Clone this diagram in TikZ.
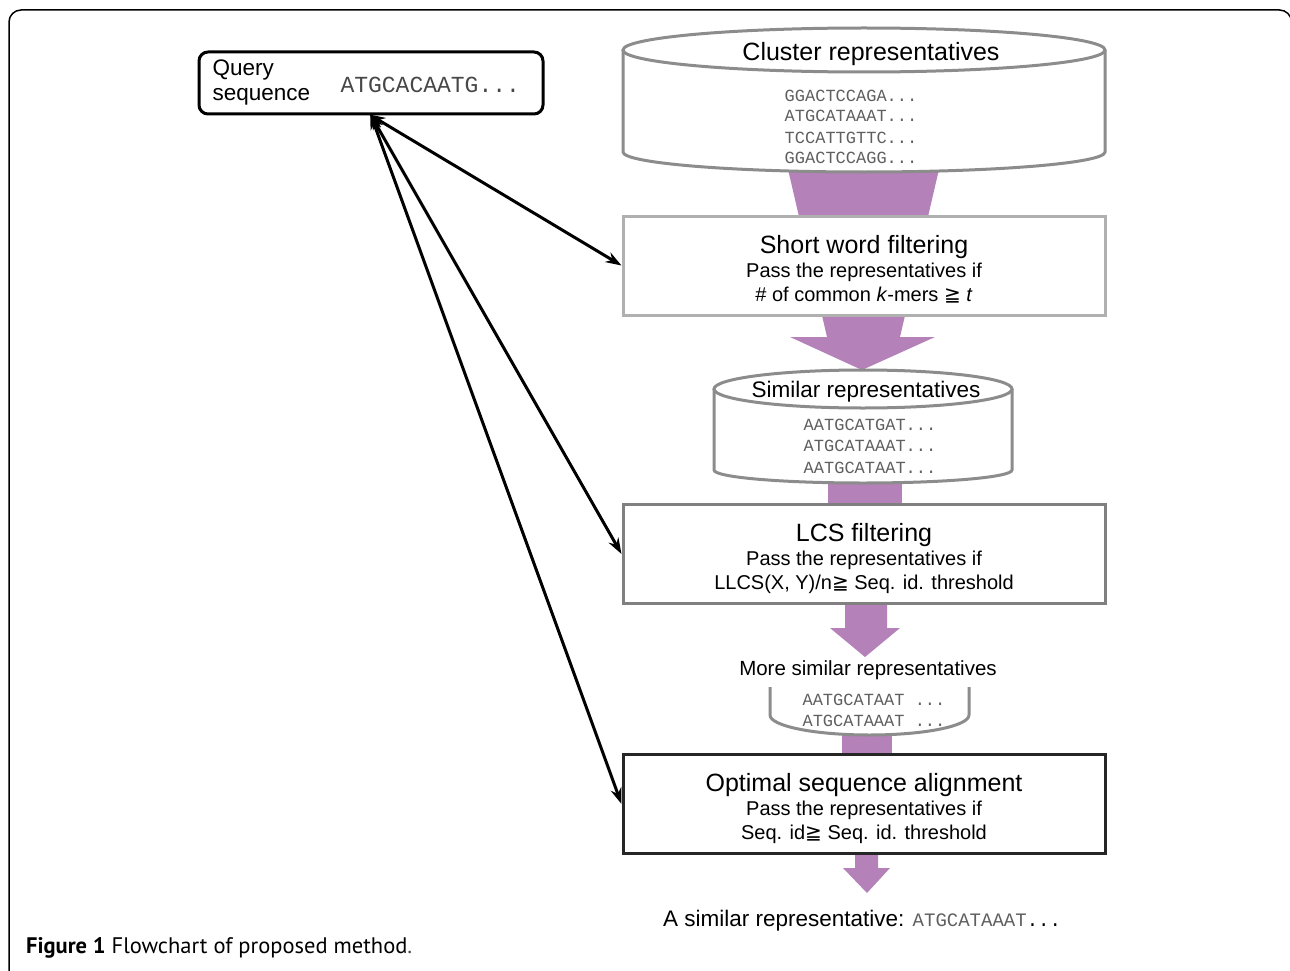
\documentclass[tikz,border=0pt]{standalone}
\usepackage{fontspec}
\setmainfont{Liberation Sans}
\newfontfamily\monof{Liberation Mono}
\newfontfamily\symf{DejaVu Sans}
\newfontfamily\capf{PT Sans}
\usetikzlibrary{arrows.meta,calc}
\definecolor{purp}{RGB}{180,129,184}
\definecolor{gcyl}{RGB}{140,140,140}
\definecolor{gsw}{RGB}{176,176,176}
\definecolor{glcs}{RGB}{128,128,128}
\definecolor{gopt}{RGB}{38,38,38}
\definecolor{seqc}{RGB}{95,95,95}
\newcommand{\geqsym}{{\symf ≧}}
\begin{document}
\begin{tikzpicture}[x=1pt,y=1pt,
  box/.style={draw, line width=3pt, fill=white, minimum width=482pt, minimum height=99pt, inner sep=0pt},
  ttl/.style={anchor=base, font=\fontsize{25}{30}\selectfont},
  sub/.style={anchor=base, font=\fontsize{20}{24}\selectfont},
  seq/.style={anchor=base, text=seqc, font=\monof\fontsize{17}{20}\selectfont},
  link/.style={line width=3pt, {Stealth[length=16pt,width=11pt]}-{Stealth[length=16pt,width=11pt]}, shorten <=-2pt},
  cyl/.style={line width=3pt, fill=white}
]
\useasboundingbox (0,0) rectangle (1290,-971);
% outer frame
\begin{scope}
\clip (0,0) rectangle (1290,-971);
\draw[line width=1.5pt, rounded corners=12pt] (9,-990) -- (9,-10) -- (1291.5,-10) -- (1291.5,-990);
\end{scope}

% purple flow shapes
\fill[purp] (787,-165) -- (940,-165) -- (900,-337) -- (935,-337) -- (862,-370) -- (790,-337) -- (827,-337) -- cycle;
\fill[purp] (828,-470) rectangle (902,-510);
\fill[purp] (845,-598) -- (887,-598) -- (887,-628) -- (900,-628) -- (865,-657) -- (830,-628) -- (845,-628) -- cycle;
\fill[purp] (842,-725) rectangle (892,-760);
\fill[purp] (855,-850) -- (878,-850) -- (878,-868) -- (890,-868) -- (867,-893) -- (843,-868) -- (855,-868) -- cycle;

% cluster representatives cylinder
\path[cyl, draw=gcyl] (623,-50) -- (623,-152) arc[start angle=180, end angle=360, x radius=241, y radius=20] -- (1105,-50);
\draw[cyl, draw=gcyl] (864,-50) ellipse[x radius=241, y radius=22];
\node[ttl] (clt) at (871,-61) {Cluster representatives};
\node[seq] (cs1) at (851,-102) {GGACTCCAGA...};
\node[seq] (cs2) at (851,-122) {ATGCATAAAT...};
\node[seq] (cs3) at (851,-143) {TCCATTGTTC...};
\node[seq] (cs4) at (851,-164) {GGACTCCAGG...};

% similar representatives cylinder
\path[cyl, draw=gcyl] (714,-389) -- (714,-470) arc[start angle=180, end angle=360, x radius=149, y radius=13] -- (1012,-389);
\draw[cyl, draw=gcyl] (863,-389) ellipse[x radius=149, y radius=19];
\node[anchor=base, font=\fontsize{22.5}{27}\selectfont] (sit) at (866,-397) {Similar representatives};
\node[seq] (ss1) at (870,-430) {AATGCATGAT...};
\node[seq] (ss2) at (870,-451) {ATGCATAAAT...};
\node[seq] (ss3) at (870,-473) {AATGCATAAT...};

% more similar representatives
\path[cyl, draw=gcyl] (770,-687) -- (770,-715) arc[start angle=180, end angle=360, x radius=99.5, y radius=20] -- (969,-687);
\node[anchor=base, font=\fontsize{20.5}{25}\selectfont] (mst) at (868,-675) {More similar representatives};
\node[seq] (ms1) at (874,-705) {AATGCATAAT ...};
\node[seq] (ms2) at (874,-726) {ATGCATAAAT ...};

% query
\node[draw, line width=3pt, rounded corners=9pt, minimum width=344pt, minimum height=62pt, inner sep=0pt] (query) at (371,-83) {};
\node[anchor=base west, font=\fontsize{22.5}{27}\selectfont] (q1) at (209,-76) {Query};
\node[anchor=base west, font=\fontsize{22.5}{27}\selectfont] (q2) at (209,-101) {sequence};
\node[anchor=base west, text=black!72, font=\monof\fontsize{23}{27}\selectfont] (qs) at (337,-93) {ATGCACAATG...};

% boxes
\node[box, draw=gsw] (sw) at (864,-265.5) {};
\node[ttl] (swt) at (864,-253) {Short word filtering};
\node[sub] (sw1) at (864,-277) {Pass the representatives if};
\node[sub] (sw2) at (864,-301) {\# of common \textit{k}-mers \geqsym{} \textit{t}};

\node[box, draw=glcs] (lcs) at (864,-554) {};
\node[ttl] (lcst) at (864,-541) {LCS filtering};
\node[sub] (lcs1) at (864,-565) {Pass the representatives if};
\node[sub] (lcs2) at (864,-589) {LLCS(X, Y)/n\geqsym{} Seq. id. threshold};

\node[box, draw=gopt] (opt) at (864,-804) {};
\node[ttl] (optt) at (864,-791) {Optimal sequence alignment};
\node[sub] (opt1) at (864,-815) {Pass the representatives if};
\node[sub] (opt2) at (864,-839) {Seq. id\geqsym{} Seq. id. threshold};

% final result
\node[anchor=base, font=\fontsize{22.5}{27}\selectfont] (res) at (862,-926) {A similar representative: {\monof\fontsize{19}{23}\selectfont\textcolor{seqc}{ATGCATAAAT}...}};

% connectors
\draw[link] (query.south) -- (sw.west);
\draw[link] (query.south) -- (lcs.west);
\draw[link] (query.south) -- (opt.west);

% caption
\node[anchor=base west, inner sep=0pt, font=\capf\fontsize{22.5}{27}\selectfont] (cap) at (26,-953) {\textbf{Figure 1} Flowchart of proposed method{\color{black!70}.}};
\end{tikzpicture}
\end{document}
